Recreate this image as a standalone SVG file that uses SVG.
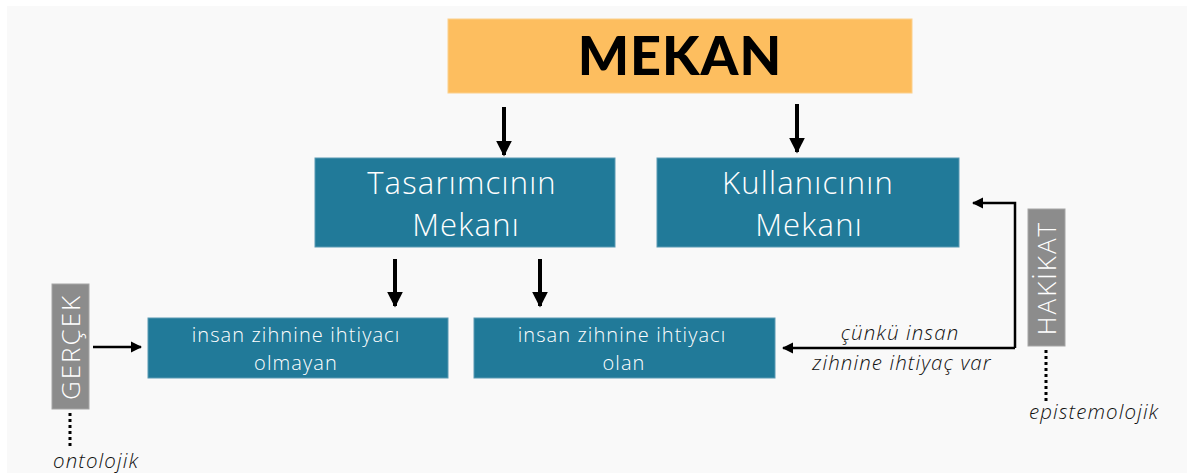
<svg xmlns="http://www.w3.org/2000/svg" width="1192" height="473" viewBox="0 0 1192 473">
  <defs>
    <marker id="headBig" viewBox="0 0 10 10" refX="9" refY="5" markerWidth="4" markerHeight="4" orient="auto" markerUnits="strokeWidth">
      <path d="M0,0 L10,5 L0,10 Z" fill="#000"/>
    </marker>
    <marker id="headSmall" viewBox="0 0 10 10" refX="9" refY="5" markerWidth="4.5" markerHeight="4.5" orient="auto" markerUnits="strokeWidth">
      <path d="M0,0 L10,5 L0,10 Z" fill="#000"/>
    </marker>
    <style>
      .box { fill: #217a99; stroke: #5b9ab3; stroke-width: 1; }
      .tag { fill: #8c8c8c; stroke: #a6a6a6; stroke-width: 1; }
      .title { font-family: "Open Sans", "Liberation Sans", sans-serif; font-weight: 300; fill: #fff; text-anchor: middle; }
      .big { font-size: 31px; letter-spacing: 1.2px; }
      .small { font-size: 20px; letter-spacing: 1.1px; }
      .tagtext { font-family: "Open Sans", "Liberation Sans", sans-serif; font-weight: 300; font-size: 26px; letter-spacing: 2px; fill: #fff; text-anchor: middle; }
      .note { font-family: "Open Sans", "Liberation Sans", sans-serif; font-style: italic; font-weight: 300; font-size: 20.5px; letter-spacing: 1.1px; fill: #111; }
      .thick { stroke: #000; stroke-width: 4; fill: none; marker-end: url(#headBig); }
      .thin { stroke: #000; stroke-width: 2.5; fill: none; marker-end: url(#headSmall); }
      .dots { stroke: #000; stroke-width: 3; stroke-dasharray: 3 3; fill: none; }
    </style>
  </defs>

  <rect x="0" y="0" width="1192" height="473" fill="#ffffff"/>
  <rect x="7" y="6" width="1180" height="467" fill="#f9f9f9"/>

  <g id="mekan">
    <rect x="448" y="19" width="464" height="74" fill="#fdbe5f" stroke="#fcd08c" stroke-width="1"/>
    <text x="680" y="75" font-family="Lato, 'Liberation Sans', sans-serif" font-weight="900" font-size="54" letter-spacing="1" fill="#000" text-anchor="middle">MEKAN</text>
  </g>

  <g id="tasarimci">
    <rect class="box" x="315" y="158" width="300" height="89"/>
    <text class="title big" x="462" y="194">Tasarımcının</text>
    <text class="title big" x="466" y="236">Mekanı</text>
  </g>

  <g id="kullanici">
    <rect class="box" x="657" y="158" width="302" height="89"/>
    <text class="title big" x="808" y="194">Kullanıcının</text>
    <text class="title big" x="809" y="236">Mekanı</text>
  </g>

  <g id="ihtiyac-yok">
    <rect class="box" x="148" y="318" width="300" height="60"/>
    <text class="title small" x="296" y="342">insan zihnine ihtiyacı</text>
    <text class="title small" x="296" y="370">olmayan</text>
  </g>

  <g id="ihtiyac-var">
    <rect class="box" x="474" y="318" width="301" height="60"/>
    <text class="title small" x="622" y="342">insan zihnine ihtiyacı</text>
    <text class="title small" x="624" y="370">olan</text>
  </g>

  <g id="gercek">
    <rect class="tag" x="52" y="284" width="37" height="125"/>
    <text class="tagtext" transform="translate(80,347) rotate(-90)">GERÇEK</text>
    <text class="note" x="53" y="468">ontolojik</text>
  </g>

  <g id="hakikat">
    <rect class="tag" x="1028" y="209" width="37" height="137"/>
    <text class="tagtext" transform="translate(1056,278) rotate(-90)">HAKİKAT</text>
    <text class="note" x="1029" y="419">epistemolojik</text>
  </g>

  <g id="connectors">
    <line class="thick" x1="504" y1="107" x2="504" y2="155"/>
    <line class="thick" x1="797" y1="104" x2="797" y2="152"/>
    <line class="thick" x1="395" y1="259" x2="395" y2="306"/>
    <line class="thick" x1="540" y1="259" x2="540" y2="306"/>
    <line class="thin" x1="93" y1="347" x2="141" y2="347"/>
    <path class="thin" d="M1015,348 L1015,203 L973,203"/>
    <line class="thin" x1="1015" y1="348" x2="783" y2="348"/>
    <line class="dots" x1="70" y1="413" x2="70" y2="448"/>
    <line class="dots" x1="1046" y1="350" x2="1046" y2="401"/>
    <text class="note" x="900" y="340" text-anchor="middle">çünkü insan</text>
    <text class="note" x="902" y="370" text-anchor="middle">zihnine ihtiyaç var</text>
  </g>
</svg>
